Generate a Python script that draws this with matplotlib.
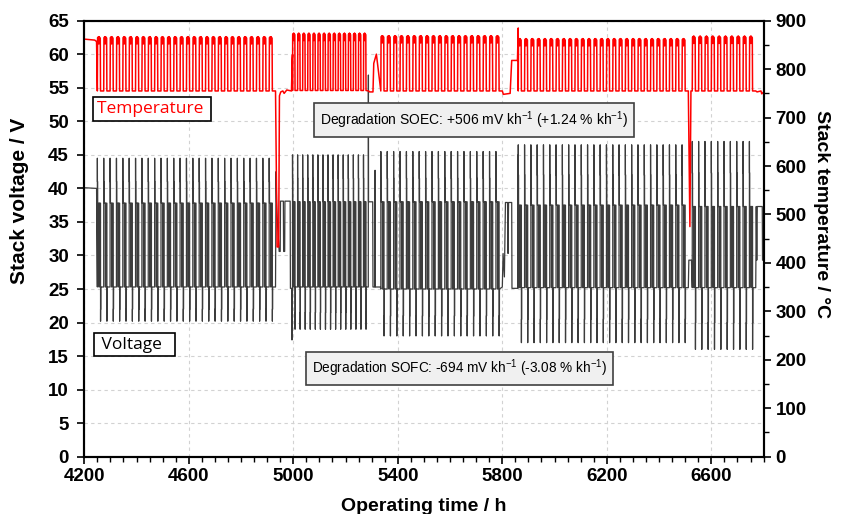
import numpy as np
import matplotlib.pyplot as plt
from matplotlib.ticker import MultipleLocator

# --- cycling blocks (operating hours) ---
block_start = [4250, 4997, 5335, 5861, 6527]
block_end = [4932, 5288, 5800, 6512, 6770]
block_cycles = [28, 15, 19, 27, 10]

# temperature levels per block (deg C)
temp_high = [867, 874, 869, 863, 868]
temp_low = [755, 756, 755, 755, 755]

# voltage levels per block (V)
v_spike = [44.5, 45.0, 45.5, 46.5, 47.0]
v_step = [41.0, 41.5, 41.5, 42.0, 42.3]
v_soec = [37.8, 38.0, 38.0, 37.5, 37.3]
v_sofc = [25.3, 25.3, 25.0, 25.2, 25.2]
v_sofc_step = [22.0, 21.5, 21.0, 20.5, 20.0]
v_dip = [20.2, 19.0, 18.0, 17.0, 16.0]

# segments between blocks
v_seg_t = [[4200, 4247],
           [4932, 4934, 4936, 4940, 4946, 4950, 4951, 4962, 4963, 4967, 4968, 4980, 4988, 4989, 4994, 4995, 4997],
           [5287, 5287.5, 5288, 5292, 5304, 5305, 5312, 5313, 5314, 5333],
           [5800, 5803, 5808, 5812, 5820, 5822, 5824, 5836, 5837, 5860, 5861],
           [6512, 6514, 6524, 6527],
           [6770, 6772, 6774, 6776, 6795, 6796, 6800]]
v_seg_v = [[40.1, 40.0],
           [25.3, 42.5, 38.0, 34.3, 30.6, 30.6, 38.1, 38.1, 30.6, 30.6, 38.1, 38.1, 38.1, 25.1, 25.1, 17.4, 25.3],
           [25.3, 56.9, 38.0, 38.0, 38.0, 25.3, 25.3, 42.7, 25.3, 25.3],
           [25.3, 30.3, 26.8, 37.9, 37.9, 30.3, 37.9, 37.9, 25.1, 25.1, 45.0],
           [25.2, 29.3, 29.3, 25.2],
           [25.2, 37.3, 29.3, 37.3, 37.3, 29.3, 29.3]]

t_seg_t = [[4200, 4240, 4247],
           [4932, 4938, 4944, 4947, 4952, 4960, 4965, 4975, 4993, 4996, 4997],
           [5288, 5292, 5305, 5308, 5318, 5335],
           [5800, 5804, 5830, 5836, 5858, 5861],
           [6512, 6518, 6522, 6527],
           [6770, 6775, 6790, 6793, 6800]]
t_seg_v = [[862, 860, 857],
           [755, 433, 433, 745, 753, 755, 750, 757, 755, 822, 830],
           [755, 753, 753, 812, 831, 755],
           [755, 748, 750, 818, 818, 885],
           [755, 475, 755, 755],
           [755, 753, 755, 749, 753]]

# one cycle shape, as fraction of the period
t_frac = [0, 0.04, 0.2, 0.24, 0.28, 0.46, 0.5]
v_frac = [0, 0.005, 0.012, 0.05, 0.055, 0.25, 0.255, 0.3, 0.305, 0.5,
          0.505, 0.51, 0.55, 0.555]


def cycles(t0, t1, n, frac, vals):
    P = (t1 - t0) / n
    ts, ys = [], []
    for k in range(n):
        for f, v in zip(frac, vals):
            ts.append(t0 + (k + f) * P)
            ys.append(v)
    return ts, ys


time_v, volt = [], []
time_t, temp = [], []
for i in range(5):
    time_v += v_seg_t[i]
    volt += v_seg_v[i]
    time_t += t_seg_t[i]
    temp += t_seg_v[i]
    tv, vv = cycles(block_start[i], block_end[i], block_cycles[i], v_frac,
                    [v_sofc[i], v_spike[i], v_step[i], v_step[i], v_soec[i], v_soec[i],
                     v_sofc[i], v_sofc[i], v_soec[i], v_soec[i],
                     v_dip[i], v_sofc_step[i], v_sofc_step[i], v_sofc[i]])
    time_v += tv
    volt += vv
    h = temp_high[i]
    tt, tp = cycles(block_start[i], block_end[i], block_cycles[i], t_frac,
                    [temp_low[i], h - 2, h, h - 15, h, h - 3, temp_low[i]])
    time_t += tt
    temp += tp
time_v += v_seg_t[5]
volt += v_seg_v[5]
time_t += t_seg_t[5]
temp += t_seg_v[5]

plt.rcParams['font.family'] = ['Liberation Sans', 'DejaVu Sans']
plt.rcParams['mathtext.default'] = 'regular'

fig = plt.figure(figsize=(8.47, 5.14), dpi=100)
ax = fig.add_axes([0.0995, 0.1115, 0.802, 0.8482])
ax2 = ax.twinx()

ax.plot(time_v, volt, color='#3c3c3c', lw=0.9, zorder=3)
ax2.plot(time_t, temp, color='red', lw=1.1)

ax.set_xlim(4200, 6800)
ax.set_ylim(0, 65)
ax2.set_ylim(0, 900)
ax.set_xticks(range(4200, 6801, 400))
ax.xaxis.set_minor_locator(MultipleLocator(50))
ax.yaxis.set_major_locator(MultipleLocator(5))
ax2.yaxis.set_major_locator(MultipleLocator(100))
ax2.yaxis.set_minor_locator(MultipleLocator(50))
ax.grid(True, which='major', color='#d2d2d2', ls=(0, (3, 3)), lw=0.8)
ax.set_axisbelow(True)

for a in (ax, ax2):
    for s in a.spines.values():
        s.set_linewidth(1.5)
    a.tick_params(which='major', direction='out', length=5, width=1.2, labelsize=13.5)
    a.tick_params(which='minor', direction='out', length=3.5, width=1.0)
    for lab in a.get_xticklabels() + a.get_yticklabels():
        lab.set_fontweight('bold')
ax.tick_params(axis='y', which='major', pad=6)

ax.set_xlabel('Operating time / h', fontsize=14, fontweight='bold')
ax.set_ylabel('Stack voltage / V', fontsize=15, fontweight='bold')
ax2.set_ylabel('Stack temperature / °C', fontsize=14, fontweight='bold', rotation=270)
ax.xaxis.set_label_coords(0.5, -0.095)
ax.yaxis.set_label_coords(-0.081, 0.586)
ax2.yaxis.set_label_coords(1.098, 0.556)

ax.text(4247, 51.8, 'Temperature ', color='red', fontsize=12.5, family='Open Sans',
        ha='left', va='center', zorder=5,
        bbox=dict(boxstyle='square,pad=0.22', fc='white', ec='black', lw=1.2))
ax.text(4250, 16.7, ' Voltage  ', color='black', fontsize=12.5, family='Open Sans',
        ha='left', va='center', zorder=5,
        bbox=dict(boxstyle='square,pad=0.22', fc='white', ec='black', lw=1.2))
ax.text(5692, 50.2, 'Degradation SOEC: +506 mV kh$^{-1}$ (+1.24 % kh$^{-1}$)',
        fontsize=10, ha='center', va='center', zorder=5,
        bbox=dict(boxstyle='square,pad=0.42', fc='#f0f0f0', ec='#404040', lw=1.2))
ax.text(5637, 13.2, 'Degradation SOFC: -694 mV kh$^{-1}$ (-3.08 % kh$^{-1}$)',
        fontsize=9.8, ha='center', va='center', zorder=5,
        bbox=dict(boxstyle='square,pad=0.42', fc='#f0f0f0', ec='#404040', lw=1.2))

fig.savefig('out.png', dpi=100)
